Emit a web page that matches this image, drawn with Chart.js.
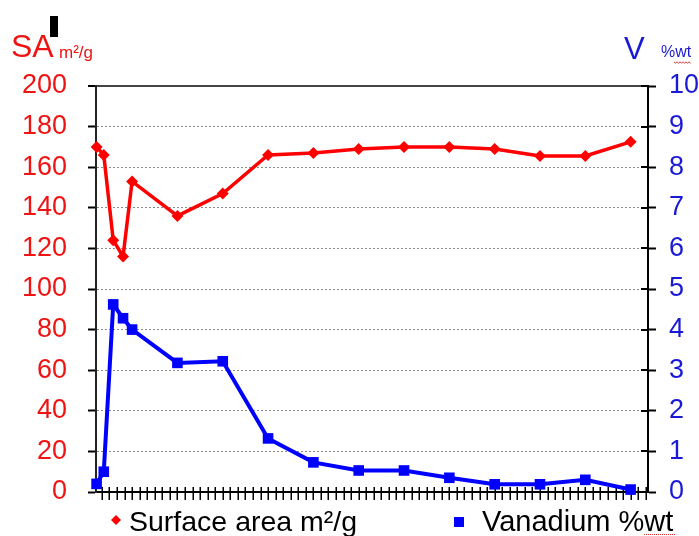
<!DOCTYPE html>
<html><head><meta charset="utf-8">
<script src="https://cdn.jsdelivr.net/npm/chart.js@4.4.1/dist/chart.umd.min.js"></script>
<style>html,body{margin:0;padding:0;background:#fff}#wrap{width:699px;height:536px}</style>
</head><body><div id="wrap"><canvas id="c" width="699" height="536"></canvas></div>
<script>
// ---- data ----
const xValues = [0.3, 1.25, 2.5, 3.8, 5, 11, 17, 23, 29, 35, 41, 47, 53, 59, 65, 71];
const surfaceArea = [170, 166, 124, 116, 153, 136, 147, 166, 167, 169, 170, 170, 169, 165.5, 165.5, 172.5];
const vanadium = [0.2, 0.5, 4.62, 4.28, 4.0, 3.18, 3.22, 1.32, 0.73, 0.53, 0.53, 0.35, 0.19, 0.19, 0.3, 0.06];
const saTickStep = 20, saMax = 200;
const vTickStep = 1, vMax = 10;
const seriesNames = ['Surface area m\u00b2/g', 'Vanadium %wt'];
const axisTitles = { left: 'SA', leftUnit: 'm\u00b2/g', right: 'V', rightUnit: '%wt' };

const FONT = "'Liberation Sans', Arial, sans-serif";
const RED = '#ff0000', RED_TXT = '#ee1414';
const BLUE = '#0000ff', BLUE_TXT = '#1a1ad6';

const decor = {
  id: 'decor',
  beforeDatasetsDraw(chart) {
    const ctx = chart.ctx, xs = chart.scales.x, ys = chart.scales.y1, a = chart.chartArea;
    ctx.save();
    ctx.strokeStyle = '#000'; ctx.lineWidth = 1.5;
    for (let v = Math.ceil(xs.min); v <= Math.floor(xs.max); v++) {
      const px = Math.round(xs.getPixelForValue(v)) + 0.25;
      ctx.beginPath(); ctx.moveTo(px, a.bottom - 5); ctx.lineTo(px, a.bottom + 8); ctx.stroke();
    }
    ctx.lineWidth = 2;
    ys.ticks.forEach(t => {
      const py = Math.round(ys.getPixelForValue(t.value));
      ctx.beginPath(); ctx.moveTo(a.right - 7, py); ctx.lineTo(a.right, py); ctx.stroke();
    });
    ctx.restore();
  },
  afterDraw(chart) {
    const ctx = chart.ctx;
    ctx.save();
    ctx.textBaseline = 'alphabetic';
    // axis titles
    ctx.fillStyle = RED_TXT;
    ctx.font = '32px ' + FONT; ctx.fillText(axisTitles.left, 11, 57);
    ctx.font = '17px ' + FONT; ctx.fillText(axisTitles.leftUnit, 59, 58);
    ctx.fillStyle = BLUE_TXT;
    ctx.font = '31px ' + FONT; ctx.fillText(axisTitles.right, 624, 59);
    ctx.font = '16px ' + FONT; ctx.fillText(axisTitles.rightUnit, 661, 57);
    // black bar artifact
    ctx.fillStyle = '#000'; ctx.fillRect(50, 16, 8, 21);
    // squiggle under %wt
    ctx.strokeStyle = '#e03030'; ctx.lineWidth = 1;
    ctx.beginPath();
    for (let x = 674, k = 0; x <= 691; x += 1.5, k++) {
      const y = 62 + (k % 2 ? 1.2 : -0.2);
      if (k === 0) ctx.moveTo(x, y); else ctx.lineTo(x, y);
    }
    ctx.stroke();
    // legend
    ctx.fillStyle = RED;
    ctx.beginPath();
    ctx.moveTo(116, 515); ctx.lineTo(121, 520); ctx.lineTo(116, 525); ctx.lineTo(111, 520); ctx.closePath(); ctx.fill();
    ctx.fillStyle = '#000';
    ctx.font = '28.5px ' + FONT; ctx.fillText(seriesNames[0], 129, 531);
    ctx.fillStyle = BLUE;
    ctx.fillRect(454, 517, 10, 10);
    ctx.fillStyle = '#000';
    ctx.font = '29px ' + FONT; ctx.fillText(seriesNames[1], 482, 531);
    ctx.fillStyle = '#e03030';
    for (let x = 644; x <= 674; x += 2) ctx.fillRect(x, 534, 1, 1);
    ctx.restore();
  }
};

new Chart(document.getElementById('c'), {
  type: 'line',
  data: {
    datasets: [
      {
        label: seriesNames[0],
        data: xValues.map((x, i) => ({ x: x, y: surfaceArea[i] })),
        yAxisID: 'y',
        borderColor: RED, backgroundColor: RED,
        borderWidth: 3.5, pointStyle: 'rectRot', pointRadius: 6, pointHoverRadius: 6,
        pointBorderWidth: 0, tension: 0, clip: false, order: 0
      },
      {
        label: seriesNames[1],
        data: xValues.map((x, i) => ({ x: x, y: vanadium[i] })),
        yAxisID: 'y1',
        borderColor: BLUE, backgroundColor: BLUE,
        borderWidth: 4, pointStyle: 'rect', pointRadius: 7.5, pointHoverRadius: 7.5,
        pointBorderWidth: 0, tension: 0, clip: false, order: 1
      }
    ]
  },
  options: {
    responsive: false, animation: false, events: [],
    layout: { padding: { top: 86, left: 0, right: 0, bottom: 0 } },
    plugins: { legend: { display: false }, tooltip: { enabled: false } },
    scales: {
      x: {
        type: 'linear', min: 0.22, max: 73.3,
        ticks: { display: false },
        grid: { display: false },
        border: { color: '#000', width: 2 },
        afterFit(s) { s.height = 44; }
      },
      y: {
        position: 'left', min: 0, max: saMax,
        ticks: { stepSize: saTickStep, color: RED_TXT, font: { size: 27, family: FONT }, padding: 21 },
        grid: {
          color: c => (c.tick && c.tick.value === saMax) ? '#444' : '#8a8a8a',
          lineWidth: c => (c.tick && c.tick.value === saMax) ? 2 : 1,
          tickLength: 8, tickColor: '#000', tickWidth: 2
        },
        border: { color: '#222', width: 2, dash: c => (c.tick && c.tick.value === saMax) ? [] : [2, 2] },
        afterFit(s) { s.width = 96; }
      },
      y1: {
        position: 'right', min: 0, max: vMax,
        ticks: { stepSize: vTickStep, color: BLUE_TXT, font: { size: 27, family: FONT }, padding: 13 },
        grid: { drawOnChartArea: false, tickLength: 8, color: '#000', tickWidth: 2 },
        border: { color: '#000', width: 2 },
        afterFit(s) { s.width = 51; }
      }
    }
  },
  plugins: [decor]
});
</script>
</body></html>
